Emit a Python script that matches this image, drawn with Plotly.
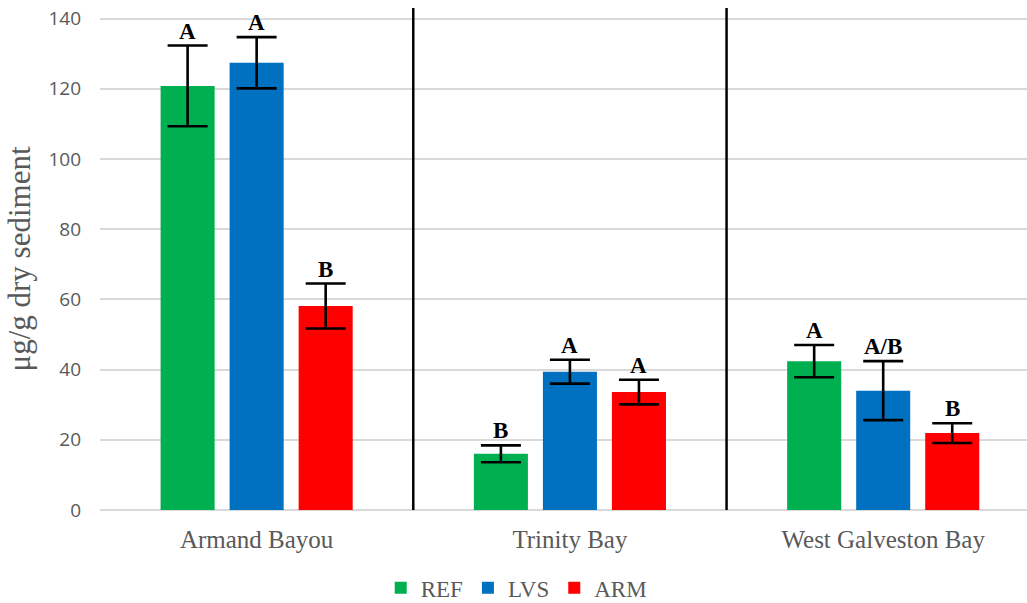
import plotly.graph_objects as go

sites = ["Armand Bayou", "Trinity Bay", "West Galveston Bay"]
series_names = ["REF", "LVS", "ARM"]
series_colors = ["#00B050", "#0070C0", "#FF0000"]

ref_vals = [120.8, 16.0, 42.4]
ref_err = [11.5, 2.4, 4.6]
ref_letters = ["A", "B", "A"]

lvs_vals = [127.4, 39.4, 34.0]
lvs_err = [7.3, 3.4, 8.4]
lvs_letters = ["A", "A", "A/B"]

arm_vals = [58.1, 33.6, 21.9]
arm_err = [6.4, 3.5, 2.8]
arm_letters = ["B", "A", "B"]

y_ticks = [0, 20, 40, 60, 80, 100, 120, 140]

values = [ref_vals, lvs_vals, arm_vals]
errors = [ref_err, lvs_err, arm_err]
letters = [ref_letters, lvs_letters, arm_letters]

serif = "Liberation Serif"
grey = "#595959"

fig = go.Figure()
for name, color, v, e in zip(series_names, series_colors, values, errors):
    fig.add_trace(go.Bar(
        x=sites, y=v, name=name, marker=dict(color=color, line=dict(width=0)),
        error_y=dict(type="data", array=e, visible=True, color="black",
                     thickness=2.6, width=20),
    ))

# significance letters above each error bar
slot_px = 69
for k, (v, e, l) in enumerate(zip(values, errors, letters)):
    for i, site in enumerate(sites):
        fig.add_annotation(
            x=site, y=v[i] + e[i], text=f"<b>{l[i]}</b>", showarrow=False,
            xshift=(k - 1) * slot_px, yanchor="bottom", yshift=0,
            font=dict(family=serif, size=23, color="black"),
        )

# separators between sites
for xpos in [0.5, 1.5]:
    fig.add_shape(type="line", xref="x", yref="paper", x0=xpos, x1=xpos,
                  y0=0, y1=1, line=dict(color="black", width=2.5))

fig.update_layout(
    width=1027, height=603,
    margin=dict(l=100, r=0, t=8, b=93, autoexpand=False),
    paper_bgcolor="white", plot_bgcolor="white",
    font=dict(family=serif, color=grey),
    barmode="group", bargap=0.339, bargroupgap=0.217,
    showlegend=True,
    legend=dict(orientation="h", x=0.449, xanchor="center", y=-0.155,
                yanchor="middle", font=dict(family=serif, size=23, color=grey),
                itemwidth=30, tracegroupgap=0),
    xaxis=dict(range=[-0.5, 2.459], showgrid=False, zeroline=False,
               showline=False, ticks="", ticklabelstandoff=12,
               automargin=False,
               tickfont=dict(family=serif, size=25, color=grey)),
    yaxis=dict(range=[0, 143], tickvals=y_ticks, showgrid=True,
               gridcolor="#D9D9D9", gridwidth=1.5, zeroline=True,
               zerolinecolor="#D9D9D9", zerolinewidth=1.5, ticks="",
               ticklabelstandoff=18, automargin=False,
               tickfont=dict(family="Open Sans", size=19, color=grey),
               title=dict(text="μg/g dry sediment", standoff=8,
                          font=dict(family=serif, size=31, color=grey))),
)

fig.write_html("out.html")
